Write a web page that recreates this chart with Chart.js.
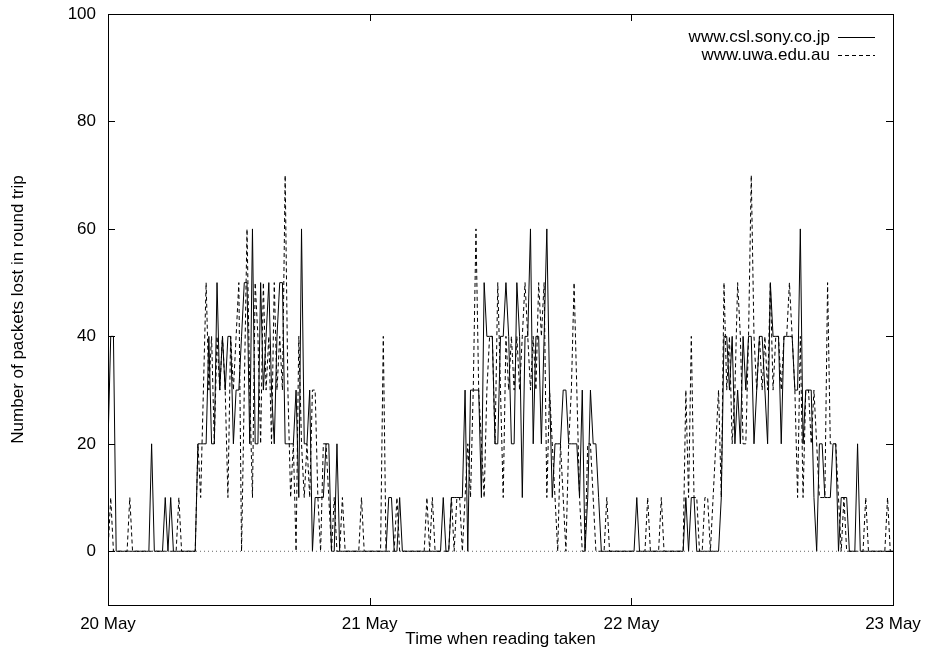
<!DOCTYPE html>
<html lang="en">
<head>
  <meta charset="UTF-8">
  <title>Packets lost in round trip</title>
  <script src="https://cdn.jsdelivr.net/npm/chart.js"></script>
  <style>
    body { margin: 0; background: #fff; }
    .chart-container { width: 925px; height: 652px; }
  </style>
</head>
<body>
  <div class="chart-container">
    <canvas id="loss-chart" width="925" height="652"></canvas>
  </div>

  <script>
    // axis ticks
    const dayTicks = [0, 24, 48, 72];            // hours since 20 May 00:00
    const dayLabels = ['20 May', '21 May', '22 May', '23 May'];
    const yTicks = [0, 20, 40, 60, 80, 100];

    // one reading every 15 minutes, one row = 6 hours
    const stepHours = 0.25;

    const sony = [
      20,40,40,0,0,0,0,0,0,0,0,0,0,0,0,0,20,0,0,0,0,10,0,10,
      0,0,0,0,0,0,0,0,0,20,20,20,20,40,20,20,50,30,40,30,40,40,20,30,
      30,40,50,50,20,60,20,20,50,30,40,50,30,20,40,50,50,20,20,20,20,30,10,60,
      20,20,30,0,10,10,10,10,20,20,0,0,20,0,0,0,0,0,0,0,0,0,0,0,
      0,0,0,0,0,0,0,10,10,0,0,10,0,0,0,0,0,0,0,0,0,0,0,0,
      0,0,0,10,0,0,10,10,10,10,10,30,0,30,30,30,30,10,50,40,40,40,20,20,
      40,40,50,40,20,20,50,40,10,40,40,60,20,40,40,20,40,60,30,10,20,20,20,30,
      30,20,20,20,20,10,30,0,10,30,20,20,10,0,0,0,0,0,0,0,0,0,0,0,
      0,0,10,0,0,0,0,0,0,0,0,0,0,0,0,0,0,0,0,0,10,0,10,10,
      0,0,0,0,0,0,0,0,0,10,40,40,30,40,20,30,20,40,30,40,40,20,30,40,
      40,30,20,50,40,40,40,20,40,40,40,40,30,30,60,20,30,30,30,10,0,20,20,10,
      10,10,20,20,0,10,10,10,0,0,0,20,0,0,0,0,0,0,0,0,0,0,0,0,0
    ];

    const uwa = [
      0,10,0,0,0,0,0,0,10,0,0,0,0,0,0,0,0,0,0,0,0,0,0,0,
      0,0,10,0,0,0,0,0,0,20,10,30,50,30,40,20,40,30,40,30,10,40,30,40,
      50,0,30,60,30,10,50,40,20,50,30,40,20,50,30,40,30,70,30,10,20,0,40,20,
      10,20,10,30,30,10,0,20,20,10,0,10,0,0,10,0,0,0,0,0,0,10,0,0,
      0,0,0,0,0,40,0,0,0,0,10,0,0,0,0,0,0,0,0,0,0,10,0,10,
      0,0,0,0,0,0,10,0,10,10,0,10,20,10,30,60,30,20,10,30,40,40,20,50,
      30,10,40,30,40,30,40,30,40,50,40,30,40,30,50,40,50,10,30,20,10,0,20,10,
      0,20,30,50,30,10,0,0,20,20,10,0,0,0,0,10,0,0,0,0,0,0,0,0,
      0,0,0,0,0,0,10,0,0,0,0,10,0,0,0,0,0,0,0,0,30,10,40,10,
      10,0,0,10,10,0,10,20,30,10,50,30,40,20,30,50,40,20,20,40,70,40,30,40,
      30,40,30,50,30,40,40,30,40,40,50,40,30,10,40,10,30,30,20,30,20,10,10,10,
      50,20,20,20,10,0,10,0,0,0,0,0,0,0,10,0,0,0,0,0,0,0,10,0,0
    ];

    const FONT = { family: '"Liberation Sans", Arial, sans-serif', size: 17 };
    const toPoints = arr => arr.map((v, i) => ({ x: i * stepHours, y: v }));

    // gnuplot style frame with inward ticks + key in the top right corner
    const gnuplotFrame = {
      id: 'gnuplotFrame',
      afterDraw(chart) {
        const { ctx, chartArea: a, scales: { x, y } } = chart;
        ctx.save();
        ctx.strokeStyle = '#000';
        ctx.lineWidth = 1;
        ctx.setLineDash([]);
        ctx.strokeRect(a.left + 0.5, a.top + 0.5, a.right - a.left, a.bottom - a.top);
        ctx.beginPath();
        yTicks.forEach(v => {
          const py = Math.round(y.getPixelForValue(v)) + 0.5;
          ctx.moveTo(a.left, py); ctx.lineTo(a.left + 7, py);
          ctx.moveTo(a.right, py); ctx.lineTo(a.right - 7, py);
        });
        dayTicks.forEach(v => {
          const px = Math.round(x.getPixelForValue(v)) + 0.5;
          ctx.moveTo(px, a.bottom); ctx.lineTo(px, a.bottom - 7);
          ctx.moveTo(px, a.top); ctx.lineTo(px, a.top + 7);
        });
        ctx.stroke();

        // key
        ctx.font = FONT.size + 'px ' + FONT.family;
        ctx.fillStyle = '#000';
        ctx.textAlign = 'right';
        ctx.textBaseline = 'middle';
        chart.data.datasets.filter(d => d.label).forEach((d, i) => {
          const ky = 37 + i * 18;
          ctx.fillText(d.label, 830, ky);
          ctx.beginPath();
          ctx.setLineDash(d.borderDash || []);
          ctx.moveTo(838, ky + 0.5);
          ctx.lineTo(875, ky + 0.5);
          ctx.stroke();
        });
        ctx.restore();
      }
    };

    new Chart(document.getElementById('loss-chart'), {
      type: 'line',
      data: {
        datasets: [
          { data: [{ x: 0, y: 0 }, { x: 72, y: 0 }], borderColor: '#666', borderWidth: 1,
            borderDash: [1, 3], pointRadius: 0 },
          { label: 'www.csl.sony.co.jp', data: toPoints(sony), borderColor: '#000',
            borderWidth: 1, pointRadius: 0, tension: 0 },
          { label: 'www.uwa.edu.au', data: toPoints(uwa), borderColor: '#000',
            borderWidth: 1, borderDash: [4, 3], pointRadius: 0, tension: 0 }
        ]
      },
      options: {
        responsive: false,
        animation: false,
        devicePixelRatio: 1,
        layout: { padding: { top: 14, right: 32, left: 0, bottom: 0 } },
        plugins: { legend: { display: false }, tooltip: { enabled: false } },
        scales: {
          x: {
            type: 'linear', min: 0, max: 72,
            afterBuildTicks: axis => { axis.ticks = dayTicks.map(v => ({ value: v })); },
            afterFit: scale => {
              scale.height = 47;
              scale.paddingLeft = 0;
              scale.paddingRight = 0;
            },
            grid: { display: false, drawTicks: false },
            border: { display: false },
            ticks: {
              color: '#000', font: FONT, padding: 9, maxRotation: 0,
              callback: v => dayLabels[dayTicks.indexOf(v)]
            },
            title: { display: true, text: 'Time when reading taken', color: '#000', font: FONT,
                     padding: { top: 0, bottom: 2 } }
          },
          y: {
            min: -10, max: 100,
            afterBuildTicks: axis => { axis.ticks = yTicks.map(v => ({ value: v })); },
            afterFit: scale => {
              scale.width = 108;
              scale.paddingTop = 0;
              scale.paddingBottom = 0;
            },
            grid: { display: false, drawTicks: false },
            border: { display: false },
            ticks: { color: '#000', font: FONT, padding: 12 },
            title: { display: true, text: 'Number of packets lost in round trip', color: '#000',
                     font: FONT, padding: { top: 8, bottom: 4 } }
          }
        }
      },
      plugins: [gnuplotFrame]
    });
  </script>
</body>
</html>
